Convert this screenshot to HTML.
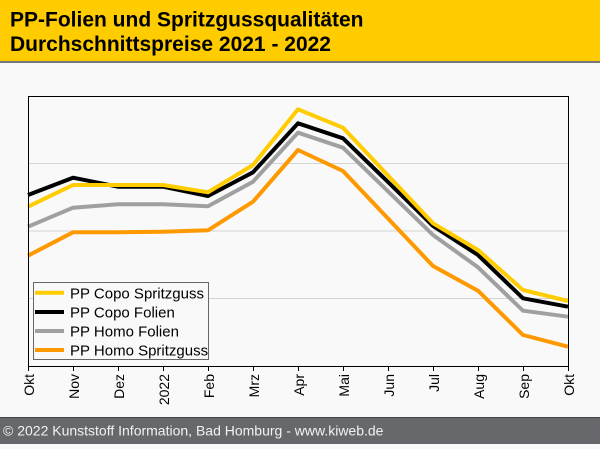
<!DOCTYPE html>
<html><head><meta charset="utf-8">
<style>
html,body{margin:0;padding:0;}
body{width:600px;height:444px;overflow:hidden;background:#f9f9f9;font-family:"Liberation Sans",Arial,sans-serif;}
</style></head>
<body>
<svg width="600" height="444" viewBox="0 0 600 444" xmlns="http://www.w3.org/2000/svg" font-family="Liberation Sans, Arial, sans-serif">
<rect x="0" y="0" width="600" height="444" fill="#f9f9f9"/>
<!-- header -->
<rect x="0" y="0" width="600" height="61" fill="#ffcc00"/>
<rect x="0" y="61" width="600" height="2" fill="#777777"/>
<text x="10" y="26.7" font-size="21" font-weight="bold" fill="#000">PP-Folien und Spritzgussqualitäten</text>
<text x="10" y="51" font-size="21" font-weight="bold" fill="#000">Durchschnittspreise 2021 - 2022</text>
<!-- gridlines -->
<g stroke="#d4d4d4" stroke-width="1">
<line x1="28.5" y1="163.5" x2="568.5" y2="163.5"/>
<line x1="28.5" y1="231" x2="568.5" y2="231"/>
<line x1="28.5" y1="298.5" x2="568.5" y2="298.5"/>
</g>
<!-- series -->
<g fill="none" stroke-width="4" stroke-linejoin="round" stroke-linecap="butt">
<polyline stroke="#ff9900" points="28,255.7 73,232.3 118,232.3 163,231.7 208,230.3 253,201.7 298,150 343,171 388,218.5 433,266 478,290.7 523,335 568,346.7"/>
<polyline stroke="#a0a0a0" points="28,226.7 73,207.7 118,204.3 163,204.3 208,206.3 253,181.7 298,132.7 343,147.7 388,191.3 433,235 478,267.3 523,310.7 568,316.7"/>
<polyline stroke="#000000" points="28,195 73,177.7 118,186.7 163,186.7 208,196 253,172.3 298,123.3 343,138.3 388,182 433,226 478,255 523,298.3 568,306.7"/>
<polyline stroke="#ffcc00" points="28,206.7 73,185 118,185 163,185 208,192.3 253,165 298,109.3 343,127.7 388,175.5 433,223.3 478,250 523,290 568,301"/>
</g>
<!-- plot border -->
<rect x="28.5" y="96.5" width="540" height="270" fill="none" stroke="#000" stroke-width="1"/>
<!-- ticks -->
<g stroke="#000" stroke-width="1">
<line x1="28.5" y1="366.5" x2="28.5" y2="371"/>
<line x1="73.5" y1="366.5" x2="73.5" y2="371"/>
<line x1="118.5" y1="366.5" x2="118.5" y2="371"/>
<line x1="163.5" y1="366.5" x2="163.5" y2="371"/>
<line x1="208.5" y1="366.5" x2="208.5" y2="371"/>
<line x1="253.5" y1="366.5" x2="253.5" y2="371"/>
<line x1="298.5" y1="366.5" x2="298.5" y2="371"/>
<line x1="343.5" y1="366.5" x2="343.5" y2="371"/>
<line x1="388.5" y1="366.5" x2="388.5" y2="371"/>
<line x1="433.5" y1="366.5" x2="433.5" y2="371"/>
<line x1="478.5" y1="366.5" x2="478.5" y2="371"/>
<line x1="523.5" y1="366.5" x2="523.5" y2="371"/>
<line x1="568.5" y1="366.5" x2="568.5" y2="371"/>
</g>
<!-- x labels -->
<g font-size="14" fill="#000" text-anchor="end">
<text transform="translate(34,374) rotate(-90)">Okt</text>
<text transform="translate(79,374) rotate(-90)">Nov</text>
<text transform="translate(124,374) rotate(-90)">Dez</text>
<text transform="translate(169,374) rotate(-90)">2022</text>
<text transform="translate(214,374) rotate(-90)">Feb</text>
<text transform="translate(259,374) rotate(-90)">Mrz</text>
<text transform="translate(304,374) rotate(-90)">Apr</text>
<text transform="translate(349,374) rotate(-90)">Mai</text>
<text transform="translate(394,374) rotate(-90)">Jun</text>
<text transform="translate(439,374) rotate(-90)">Jul</text>
<text transform="translate(484,374) rotate(-90)">Aug</text>
<text transform="translate(529,374) rotate(-90)">Sep</text>
<text transform="translate(574,374) rotate(-90)">Okt</text>
</g>
<!-- legend -->
<rect x="33.5" y="282.5" width="175" height="77" fill="#f9f9f9" stroke="#666" stroke-width="1"/>
<g stroke-width="4">
<line x1="35" y1="292.7" x2="64" y2="292.7" stroke="#ffcc00"/>
<line x1="35" y1="312" x2="64" y2="312" stroke="#000"/>
<line x1="35" y1="331" x2="64" y2="331" stroke="#a0a0a0"/>
<line x1="35" y1="350" x2="64" y2="350" stroke="#ff9900"/>
</g>
<g font-size="15" fill="#000">
<text x="70" y="298.3">PP Copo Spritzguss</text>
<text x="70" y="317.5">PP Copo Folien</text>
<text x="70" y="336.5">PP Homo Folien</text>
<text x="70" y="355.5">PP Homo Spritzguss</text>
</g>
<!-- footer -->
<rect x="0" y="417" width="600" height="27" fill="#66686c"/>
<rect x="0" y="417" width="600" height="1" fill="#444"/>
<text x="3" y="435.7" font-size="14" fill="#f2f2f2">© 2022 Kunststoff Information, Bad Homburg - www.kiweb.de</text>
</svg>
</body></html>
